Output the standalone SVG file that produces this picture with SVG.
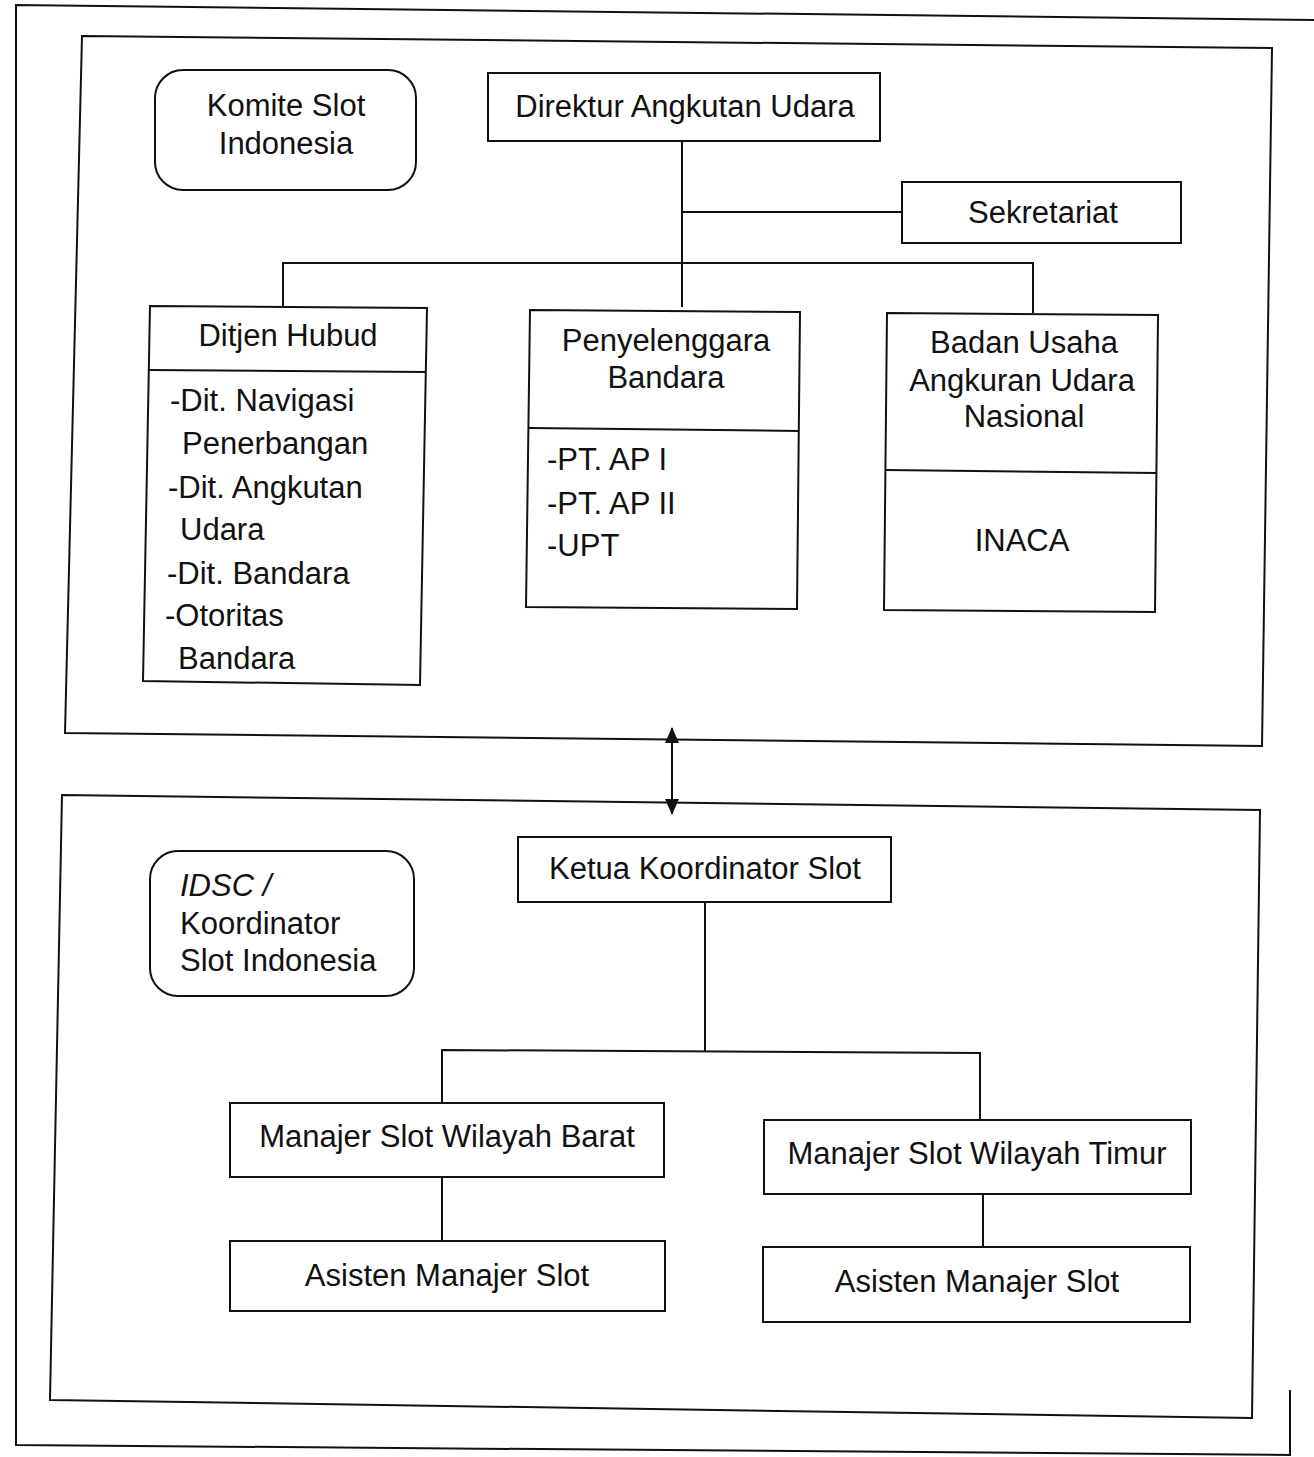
<svg xmlns="http://www.w3.org/2000/svg" width="1314" height="1457" viewBox="0 0 1314 1457">
<defs>
<style>
.b{fill:none;stroke:#111;stroke-width:2}
.t{font-family:"Liberation Sans",Arial,sans-serif;font-size:31px;fill:#111}
.c{text-anchor:middle}
.ln{stroke:#111;stroke-width:2;fill:none}
</style>
<marker id="ah" viewBox="0 0 16 14" refX="15" refY="7" markerWidth="16" markerHeight="14" orient="auto-start-reverse" markerUnits="userSpaceOnUse">
<path d="M0,0 L16,7 L0,14 z" fill="#111"/>
</marker>
</defs>
<rect width="1314" height="1457" fill="#fff"/>
<g id="frames">
<polyline class="b" points="1314,20 16,5 16,1445 1290,1455 1290,1390"/>
<polygon class="b" points="82,36 1272,48 1262,746 65,733"/>
<polygon class="b" points="62,795 1260,810 1252,1418 50,1400"/>
</g>
<g id="connectors">
<polyline class="ln" points="682,141 682,307"/>
<polyline class="ln" points="682,212 902,212"/>
<polyline class="ln" points="283,306 283,263 1033,263 1033,313"/>
<line class="ln" x1="672" y1="728" x2="672" y2="814" marker-start="url(#ah)" marker-end="url(#ah)"/>
<polyline class="ln" points="705,902 705,1051"/>
<polyline class="ln" points="442,1103 442,1050 980,1053 980,1121"/>
<polyline class="ln" points="442,1177 442,1241"/>
<polyline class="ln" points="983,1194 983,1247"/>
</g>
<g id="komite">
<rect class="b" x="155" y="70" width="261" height="120" rx="28"/>
<text class="t c" x="286" y="116">Komite Slot</text>
<text class="t c" x="286" y="154">Indonesia</text>
</g>
<g id="direktur">
<rect class="b" x="488" y="73" width="392" height="68"/>
<text class="t c" x="685" y="117">Direktur Angkutan Udara</text>
</g>
<g id="sekretariat">
<rect class="b" x="902" y="182" width="279" height="61"/>
<text class="t c" x="1043" y="223">Sekretariat</text>
</g>
<g id="ditjen">
<polygon class="b" points="150,306 427,308 420,685 143,681"/>
<line class="ln" x1="149" y1="370" x2="426" y2="372"/>
<text class="t c" x="288" y="346">Ditjen Hubud</text>
<text class="t" x="170" y="411">-Dit. Navigasi</text>
<text class="t" x="182" y="454">Penerbangan</text>
<text class="t" x="168" y="498">-Dit. Angkutan</text>
<text class="t" x="180" y="540">Udara</text>
<text class="t" x="167" y="584">-Dit. Bandara</text>
<text class="t" x="165" y="626">-Otoritas</text>
<text class="t" x="178" y="669">Bandara</text>
</g>
<g id="penyelenggara">
<polygon class="b" points="530,310 800,312 797,609 526,607"/>
<line class="ln" x1="529" y1="428" x2="799" y2="431"/>
<text class="t c" x="666" y="351">Penyelenggara</text>
<text class="t c" x="666" y="388">Bandara</text>
<text class="t" x="547" y="470">-PT. AP I</text>
<text class="t" x="547" y="514">-PT. AP II</text>
<text class="t" x="547" y="556">-UPT</text>
</g>
<g id="badan">
<polygon class="b" points="887,313 1158,315 1155,612 884,610"/>
<line class="ln" x1="886" y1="470" x2="1157" y2="473"/>
<text class="t c" x="1024" y="353">Badan Usaha</text>
<text class="t c" x="1022" y="391">Angkuran Udara</text>
<text class="t c" x="1024" y="427">Nasional</text>
<text class="t c" x="1022" y="551">INACA</text>
</g>
<g id="idsc">
<rect class="b" x="150" y="851" width="264" height="145" rx="28"/>
<text class="t" x="180" y="896" font-style="italic">IDSC /</text>
<text class="t" x="180" y="934">Koordinator</text>
<text class="t" x="180" y="971">Slot Indonesia</text>
</g>
<g id="ketua">
<rect class="b" x="518" y="837" width="373" height="65"/>
<text class="t c" x="705" y="879">Ketua Koordinator Slot</text>
</g>
<g id="barat">
<rect class="b" x="230" y="1103" width="434" height="74"/>
<text class="t c" x="447" y="1147">Manajer Slot Wilayah Barat</text>
</g>
<g id="asisten-barat">
<rect class="b" x="230" y="1241" width="435" height="70"/>
<text class="t c" x="447" y="1286">Asisten Manajer Slot</text>
</g>
<g id="timur">
<rect class="b" x="764" y="1120" width="427" height="74"/>
<text class="t c" x="977" y="1164">Manajer Slot Wilayah Timur</text>
</g>
<g id="asisten-timur">
<rect class="b" x="763" y="1247" width="427" height="75"/>
<text class="t c" x="977" y="1292">Asisten Manajer Slot</text>
</g>
</svg>
